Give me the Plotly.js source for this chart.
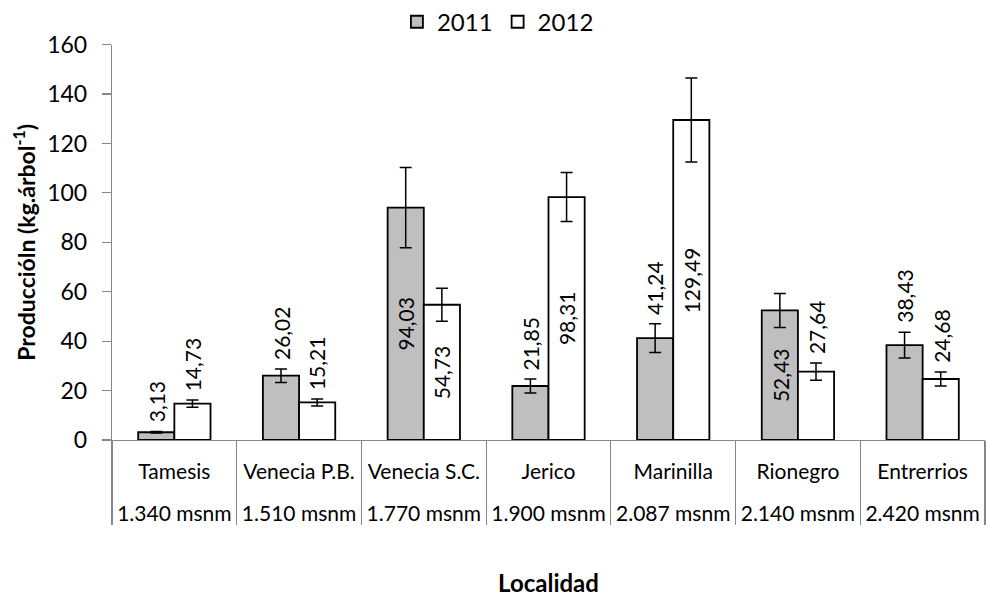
<!DOCTYPE html>
<html>
<head>
<meta charset="utf-8">
<script src="https://cdn.plot.ly/plotly-3.0.1.min.js"></script>
<style>html,body{margin:0;padding:0;background:#fff;} #chart{width:986px;height:598px;}</style>
</head>
<body>
<div id="chart"></div>
<script>
// ---- data ----
var localidades = ['Tamesis','Venecia P.B.','Venecia S.C.','Jerico','Marinilla','Rionegro','Entrerrios'];
var altitudes = ['1.340 msnm','1.510 msnm','1.770 msnm','1.900 msnm','2.087 msnm','2.140 msnm','2.420 msnm'];
var prod2011 = [3.13, 26.02, 94.03, 21.85, 41.24, 52.43, 38.43];
var prod2012 = [14.73, 15.21, 54.73, 98.31, 129.49, 27.64, 24.68];
var err2011 = [0.3, 2.7, 16.2, 2.8, 5.8, 6.9, 5.2];
var err2012 = [1.5, 1.4, 6.7, 9.9, 17.0, 3.5, 2.8];
var yTicks = [0, 20, 40, 60, 80, 100, 120, 140, 160];
// label placement style: true = centred inside the bar
var inside2011 = [false, false, true, false, false, true, false];
var inside2012 = [false, false, true, true, true, false, false];

var FONT = 'Lato, "Open Sans", sans-serif';
var BARGAP = 0.42;
function fmt(v){ return v.toFixed(2).replace('.', ','); }

// inner level (names) gets an empty second line so the altitude row sits lower, like the table in the original
var innerLabels = localidades.map(function(n){ return n + '<br>\u00a0'; });
var xcat = [altitudes, innerLabels];
var traces = [
  {type:'bar', name:'2011', x:xcat, y:prod2011,
   marker:{color:'#bfbfbf', line:{color:'#000', width:1.8}},
   error_y:{type:'data', array:err2011, visible:true, color:'#000', thickness:1.5, width:6}},
  {type:'bar', name:'2012', x:xcat, y:prod2012,
   marker:{color:'#ffffff', line:{color:'#000', width:1.8}},
   error_y:{type:'data', array:err2012, visible:true, color:'#000', thickness:1.5, width:6}}
];

var annotations = [];
var off = (1 - BARGAP) / 4;
function addLabels(vals, errs, inside, dx){
  for (var i = 0; i < vals.length; i++){
    var a = {xref:'x', yref:'y', x:i + dx, text:fmt(vals[i]), textangle:-90, showarrow:false,
             font:{family:FONT, size:21, color:'#000'}, xanchor:'center'};
    if (inside[i]) { a.y = vals[i] / 2; a.yanchor = 'middle'; }
    else { a.y = vals[i] + errs[i]; a.yanchor = 'bottom'; a.yshift = 7; }
    annotations.push(a);
  }
}
addLabels(prod2011, err2011, inside2011, -off);
addLabels(prod2012, err2012, inside2012, off);

var layout = {
  width:986, height:598,
  margin:{l:112, r:1, t:44, b:158},
  paper_bgcolor:'#fff', plot_bgcolor:'#fff',
  font:{family:FONT, size:20, color:'#000'},
  barmode:'group', bargap:BARGAP, bargroupgap:0,
  showlegend:true,
  legend:{orientation:'h', xref:'container', yref:'container', x:0.505, xanchor:'center',
          y:0.963, yanchor:'middle', font:{family:FONT, size:24, color:'#000'}, itemwidth:30, tracegroupgap:0},
  xaxis:{type:'multicategory', showline:true, linecolor:'#868686', linewidth:1.2,
         ticks:'', showgrid:false, zeroline:false, ticklabelstandoff:13,
         showdividers:true, dividercolor:'#868686', dividerwidth:1.2,
         tickfont:{family:FONT, size:21, color:'#000'},
         title:{text:'<b>Localidad</b>', font:{family:FONT, size:24, color:'#000'}, standoff:51}},
  yaxis:{range:[0,160], tickvals:yTicks, ticktext:yTicks.map(String), showline:true, linecolor:'#868686', linewidth:1.2,
         ticks:'outside', ticklen:9, tickcolor:'#868686', tickwidth:1.2, showgrid:false, zeroline:false,
         ticklabelstandoff:10,
         tickfont:{family:FONT, size:23, color:'#000'},
         title:{text:'<b>Produccióln (kg.árbol<sup>-1</sup>)</b>', font:{family:FONT, size:23, color:'#000'}, standoff:5}},
  annotations:annotations
};
Plotly.newPlot('chart', traces, layout, {displayModeBar:false, staticPlot:true});
</script>
</body>
</html>
